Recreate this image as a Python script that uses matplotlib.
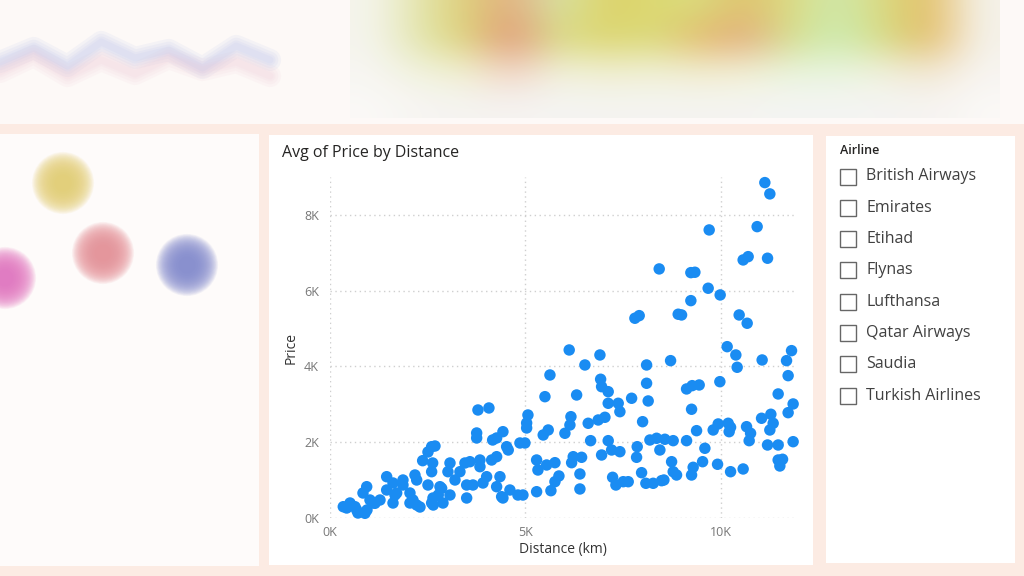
import numpy as np
import matplotlib.pyplot as plt
from matplotlib.patches import Rectangle
from matplotlib.ticker import FuncFormatter

# 字体
plt.rcParams['font.family'] = ['Open Sans', 'DejaVu Sans']

# 散点数据：距离(km) 与 平均价格
distance = [
    427, 512, 683, 716, 939, 844, 946, 1023, 1100, 1279, 1450, 1450, 1612, 1612, 1706,
    1867, 1867, 2046, 2046, 2174, 2218, 2123, 2218, 2302, 2371, 2507, 2601, 2686, 2627,
    2601, 2507, 2635, 2601, 2814, 2891, 3018, 3070, 3198, 3325, 3070, 3497, 3497, 3453,
    3581, 3753, 3753, 3786, 4067, 3837, 3837, 3658, 3914, 4008, 4162, 4264, 4425, 4136,
    4264, 4520, 4425, 4264, 4349, 4604, 4809, 4937, 4860, 4988, 5032, 5065, 5287, 5287,
    5321, 5543, 5500, 5628, 340, 640, 895, 1151, 1663, 2770, 2857, 2642, 5032, 4561, 4392,
    11127, 11255, 9703, 10930, 10572, 10700, 11196, 8424, 9234, 9337, 9677, 9984, 9234,
    7802, 7912, 8910, 8996, 10470, 10675, 6121, 6907, 10163, 10385, 10419, 11058, 11810,
    11682, 11723, 6523, 8101, 8715, 6311, 6925, 6950, 7119, 8101, 9976, 9124, 9268, 9447,
    7718, 8142, 7119, 7375, 7418, 11468, 11851, 11723, 9252, 6165, 6139, 6011, 5584, 5456,
    6607, 6863, 7035, 7999, 11043, 11281, 11340, 11255, 10659, 10762, 10189, 10250, 10214,
    9933, 9805, 9380, 6669, 7119, 8186, 8357, 8569, 8782, 8441, 9124, 10726, 11196, 11468,
    11851, 9593, 7861, 7206, 7418, 6950, 6224, 6438, 6183, 5756, 7845, 8741, 9534, 9917,
    11468, 11580, 11511, 6395, 5858, 5756, 7973, 8782, 8868, 9293, 9252, 10250, 10572,
    7232, 7316, 7503, 7631, 8083, 8270, 8485, 8544, 6395, 5653,
]
price = [
    264, 396, 211, 132, 826, 660, 211, 475, 396, 475, 1090, 739, 924, 396, 660,
    1003, 871, 660, 396, 1135, 1003, 475, 343, 290, 1513, 1742, 1882, 1900, 1452,
    1222, 871, 528, 396, 826, 396, 1222, 1452, 1003, 1222, 607, 528, 871, 1452,
    1486, 2244, 2112, 2851, 2904, 1531, 1354, 871, 924, 1090, 2059, 2112, 2278, 1531,
    1618, 1882, 528, 826, 1090, 739, 607, 607, 1980, 1980, 2508, 2719, 694, 1531,
    1267, 1399, 3202, 3775, 298, 298, 124, 388, 607, 607, 784, 343, 2376, 1795, 562,
    8852, 8554, 7603, 7690, 6811, 6898, 6856, 6574, 6476, 6486, 6064, 5887, 5737,
    5272, 5341, 5378, 5359, 5359, 5140, 4435, 4303, 4522, 4303, 3978, 4171, 4417,
    4153, 3757, 4039, 4039, 4153, 3247, 3662, 3466, 3334, 3556, 3598, 3406, 3493, 3511,
    3160, 3089, 3028, 3028, 2806, 3274, 3010, 2780, 2870, 2674, 2455, 2236, 2323, 2191,
    2500, 2587, 2658, 2542, 2632, 2738, 2500, 2323, 2410, 2236, 2500, 2394, 2278,
    2482, 2323, 2305, 2041, 2041, 2059, 2104, 2078, 2041, 1795, 2041, 2041, 1927, 1927,
    2014, 1840, 1882, 1795, 1750, 1663, 1618, 1602, 1460, 1460, 1602, 1486, 1486, 1418,
    1531, 1550, 1373, 1162, 1109, 958, 1196, 1222, 1135, 1338, 1135, 1222, 1294,
    1074, 871, 958, 958, 916, 916, 985, 1003, 766, 721,
]

x_ticks = [0, 5000, 10000]
y_ticks = [0, 2000, 4000, 6000, 8000]

airlines = ['British Airways', 'Emirates', 'Etihad', 'Flynas', 'Lufthansa',
            'Qatar Airways', 'Saudia', 'Turkish Airlines']

# 背景里被模糊掉的其他图表（只做装饰）
heat_colors = [
    ['#f4f4ec', '#dfe3a0', '#d8c860', '#e0a070', '#cfe39a', '#d9cb50', '#d6d35a',
     '#d4d86a', '#dcb655', '#d6d86e', '#c6e6a2', '#d5d66a', '#e0b24c', '#f4f2ea'],
    ['#f4f4ec', '#dde2a0', '#d6cc5e', '#de7e60', '#d2da70', '#d8cd55', '#d3d764',
     '#e0b050', '#e09a6a', '#cfdc7a', '#c2eaa8', '#cfd870', '#e0ac48', '#f4f2ea'],
    ['#f6f6f2', '#eef0d8', '#eef0c8', '#f0c8b8', '#eef2d8', '#eeecc8', '#eef0d0',
     '#eeecc8', '#f0f0cc', '#e4f4d8', '#e4f4d8', '#eef0d8', '#f0e2c8', '#f6f4f0'],
    ['#fbf9f7', '#f6f5f2', '#f4f3f0', '#f5f2f0', '#f4f4f2', '#f4f3f0', '#f4f4f1',
     '#f4f3f0', '#f4f4f1', '#f3f5f2', '#f3f5f2', '#f4f4f2', '#f5f3f0', '#fbf9f7'],
]
blob_x = [63, 103, 187, 5]
blob_y = [183, 253, 265, 278]
blob_colors = ['#e2c95e', '#e48088', '#6f78c8', '#e060b8']
line_blue = [62, 48, 66, 42, 58, 50, 68, 46, 60]
line_pink = [72, 56, 76, 60, 74, 58, 70, 62, 76]

fig = plt.figure(figsize=(10.24, 5.76), dpi=100)
fig.patch.set_facecolor('#fcebe3')

# 背景层（像素坐标）
bg = fig.add_axes([0, 0, 1, 1])
bg.set_xlim(0, 1024)
bg.set_ylim(576, 0)
bg.axis('off')

bg.add_patch(Rectangle((0, 0), 1024, 124, facecolor='#fdf9f7', edgecolor='none'))
bg.add_patch(Rectangle((0, 134), 259, 432, facecolor='#fefbfa', edgecolor='none'))

heat = np.array([[tuple(int(c[i:i + 2], 16) / 255 for i in (1, 3, 5)) for c in row]
                 for row in heat_colors])
bg.imshow(heat, extent=(350, 1000, 118, -10), interpolation='bicubic', aspect='auto',
          alpha=0.85, zorder=1)

lx = np.linspace(0, 270, len(line_blue))
for lw in [16, 12, 8, 5]:
    bg.plot(lx, line_blue, color='#b4c0ec', lw=lw, alpha=0.12, solid_capstyle='round')
    bg.plot(lx, line_pink, color='#efc4d2', lw=lw, alpha=0.10, solid_capstyle='round')

for bx, by, bc in zip(blob_x, blob_y, blob_colors):
    for s in np.linspace(2000, 150, 22):
        bg.scatter(bx, by, s=s, color=bc, alpha=0.065, edgecolors='none')

# 散点图面板和切片器面板
bg.add_patch(Rectangle((269, 135), 544, 430, facecolor='white', edgecolor='none',
                       zorder=2))
bg.add_patch(Rectangle((826, 136), 189, 427, facecolor='white', edgecolor='none',
                       zorder=2))

# 散点图
ax = fig.add_axes([330 / 1024, 1 - 518 / 576, 467 / 1024, 341 / 576])
ax.set_facecolor('none')
ax.scatter(distance, price, s=68, color='#1a8cf2', edgecolors='none',
           clip_on=False, zorder=3)
ax.set_xlim(0, 11950)
ax.set_ylim(0, 9000)
ax.set_xticks(x_ticks)
ax.set_yticks(y_ticks)
fmt = FuncFormatter(lambda v, pos: f'{int(v // 1000)}K')
ax.xaxis.set_major_formatter(fmt)
ax.yaxis.set_major_formatter(fmt)
ax.grid(color='#cfcfcf', linestyle=(0, (1, 2.5)), linewidth=1)
ax.set_axisbelow(True)
for sp in ax.spines.values():
    sp.set_visible(False)
ax.tick_params(length=0, colors='#777777', labelsize=9)
ax.tick_params(axis='x', pad=6)
ax.tick_params(axis='y', pad=8)

fig.text(282 / 1024, 1 - 153 / 576, 'Avg of Price by Distance', fontsize=11.5,
         color='#252423', va='center', ha='left')
fig.text(291 / 1024, 1 - 348 / 576, 'Price', rotation=90, fontsize=10,
         color='#333333', va='center', ha='center')
fig.text(563 / 1024, 1 - 550 / 576, 'Distance (km)', fontsize=10,
         color='#333333', va='center', ha='center')

# 切片器
fig.text(840 / 1024, 1 - 151 / 576, 'Airline', fontsize=9, fontweight='semibold',
         color='#252423', va='center', ha='left')
for i, name in enumerate(airlines):
    yc = 176.5 + i * 31.3
    bg.add_patch(Rectangle((840, yc - 8), 16, 16, facecolor='white',
                           edgecolor='#666666', lw=1, zorder=3))
    bg.text(866, yc, name, fontsize=11.5, color='#404040', va='center', ha='left',
            zorder=3)

fig.savefig('out.png', dpi=100, facecolor=fig.get_facecolor())
